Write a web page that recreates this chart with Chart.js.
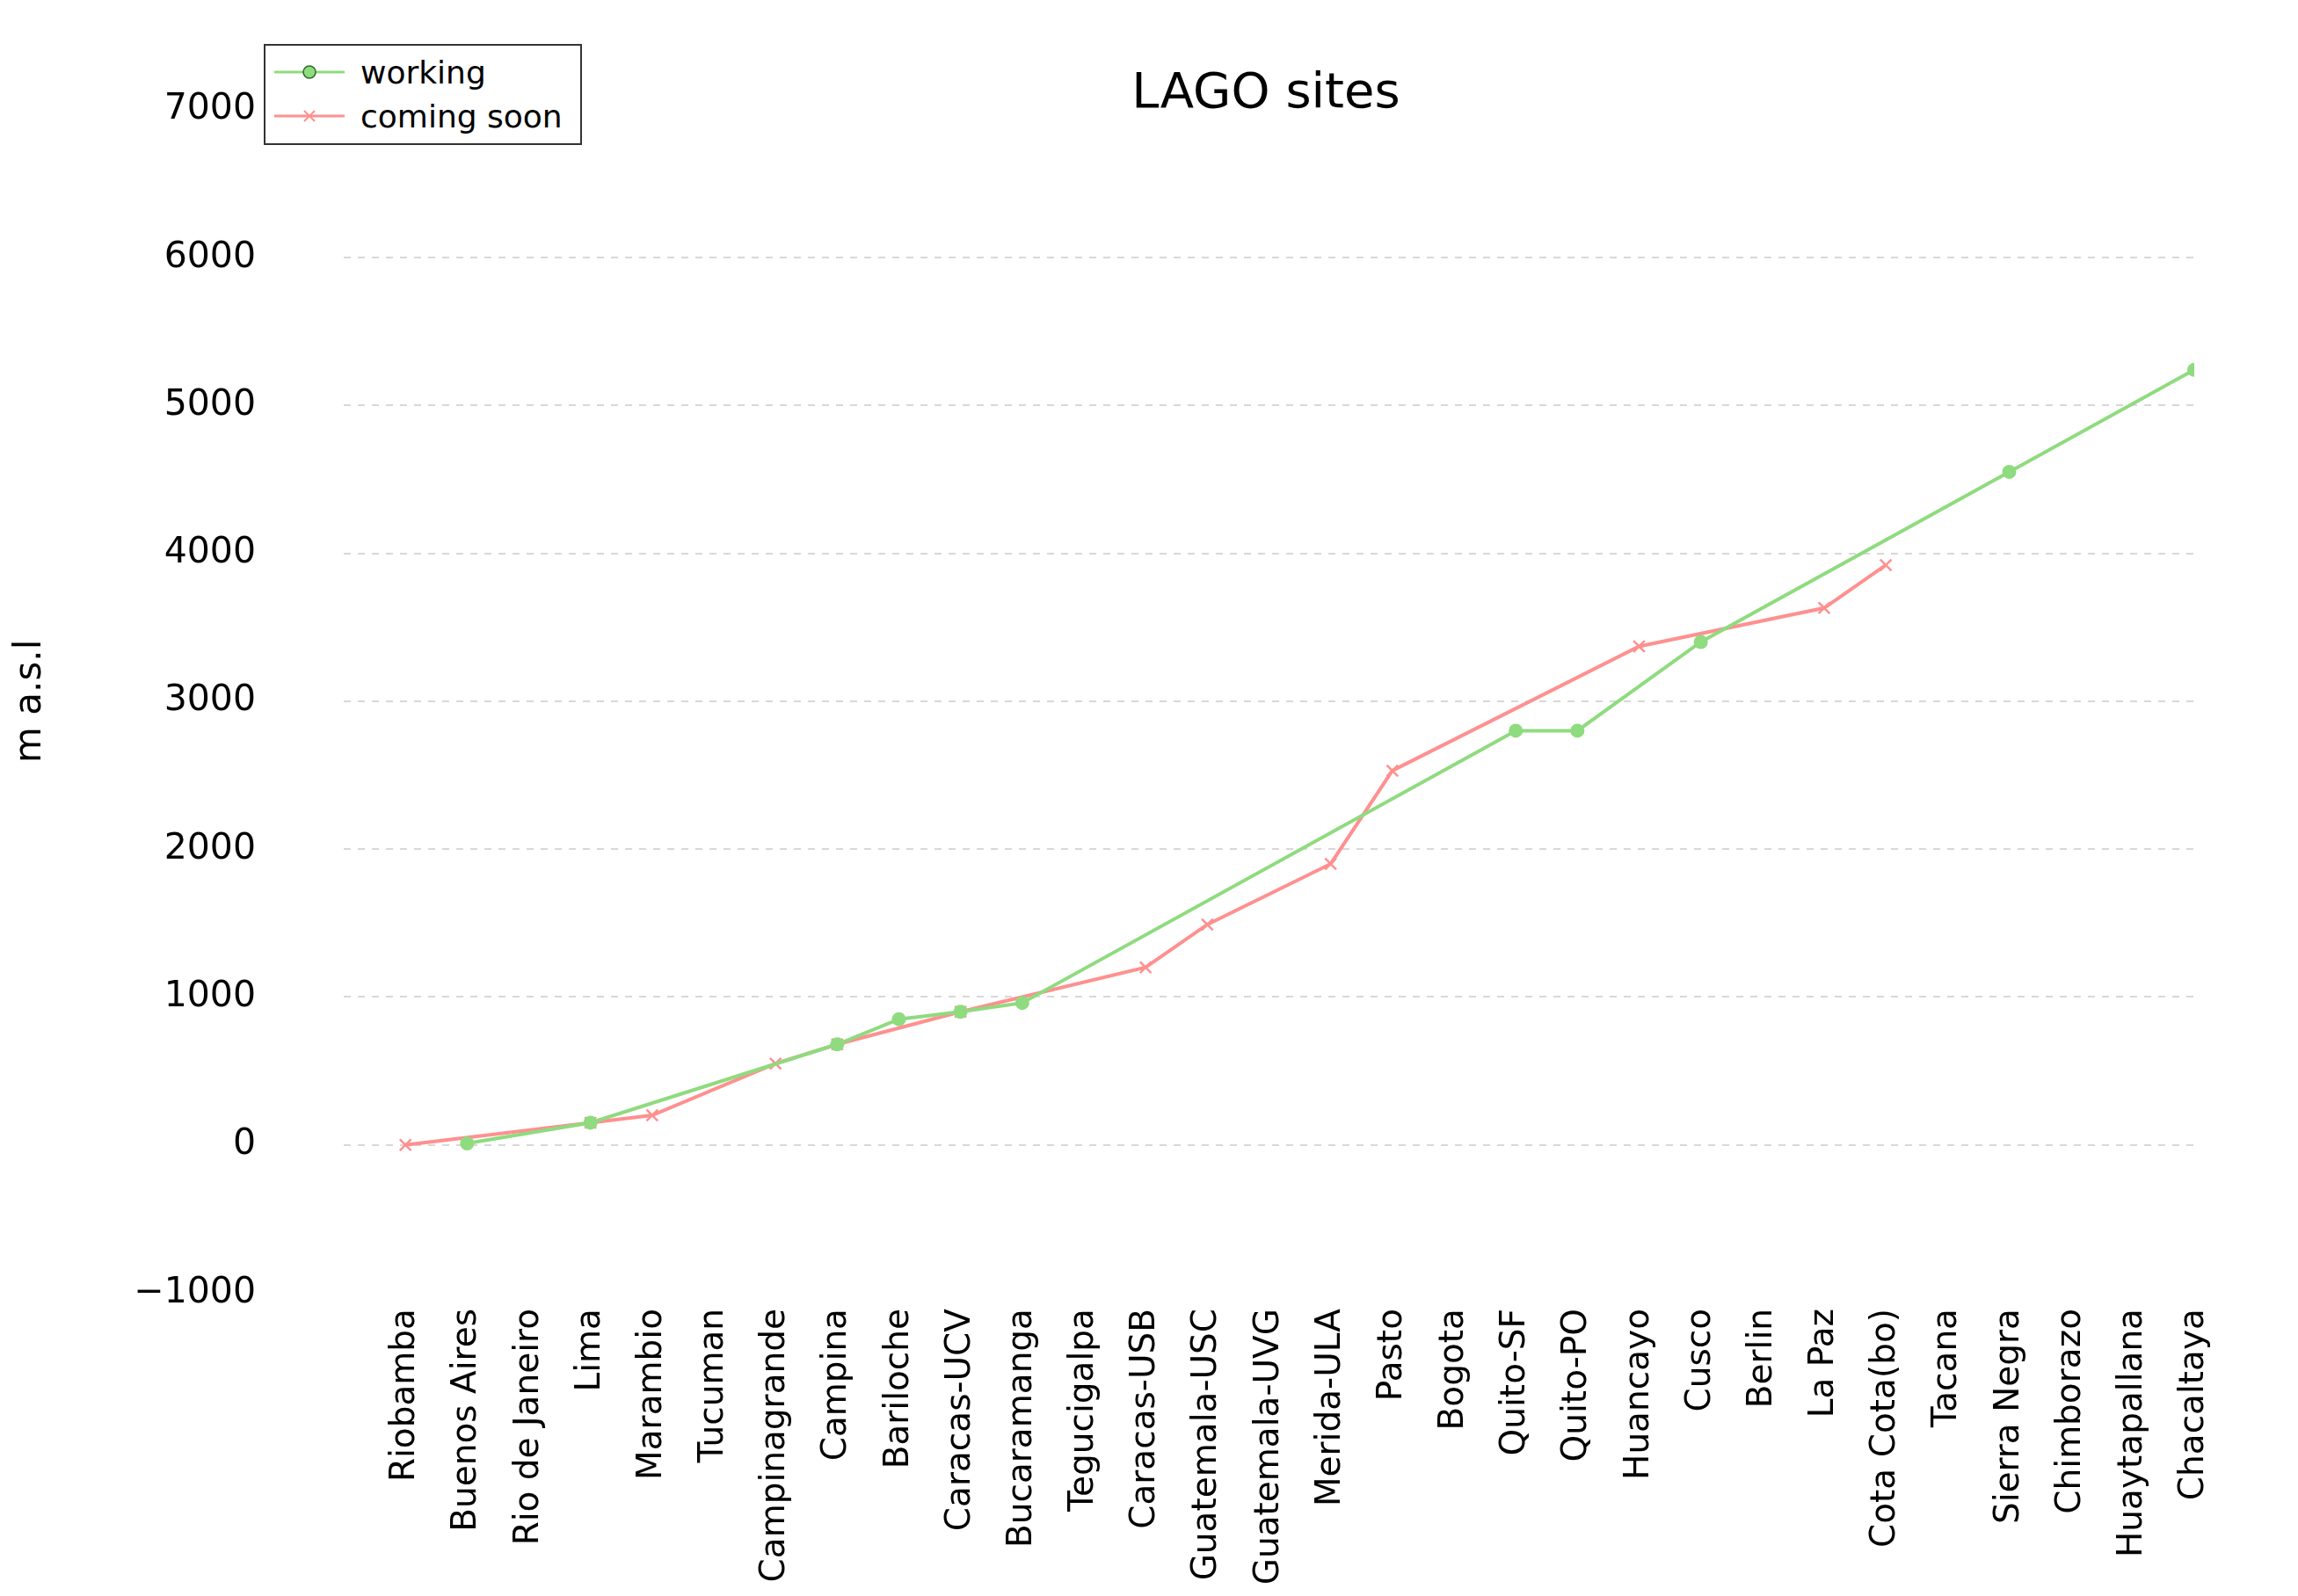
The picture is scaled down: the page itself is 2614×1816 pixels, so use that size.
<!DOCTYPE html>
<html><head><meta charset="utf-8">
<script src="https://cdn.jsdelivr.net/npm/chart.js"></script>
<style>
body{margin:0;background:#fff;font-family:"DejaVu Sans",sans-serif}
#wrap{position:relative;width:2614px;height:1816px}
#title{position:absolute;left:0;width:2880px;top:70px;text-align:center;font-size:56px;color:#000}
#legend{position:absolute;left:300px;top:50px;width:362px;height:115px;border:2px solid #333;background:#fff;font-size:36px;box-sizing:border-box}
.row{position:absolute;left:0;height:40px;display:flex;align-items:center}
.row svg{margin-left:10px;margin-right:18px}
</style></head>
<body><div id="wrap">
<canvas id="Grafica" width="2614" height="1816"></canvas>
<div id="title">LAGO sites</div>
<div id="legend">
 <div class="row" style="top:10px"><svg width="80" height="20"><line x1="0" y1="10" x2="80" y2="10" stroke="#8fdb7f" stroke-width="3"/><circle cx="40" cy="10" r="7" fill="#8fdb7f" stroke="#2a6a2a" stroke-width="1.5"/></svg>working</div>
 <div class="row" style="top:60px"><svg width="80" height="20"><line x1="0" y1="10" x2="80" y2="10" stroke="#ff9090" stroke-width="3"/><path d="M34 4 L46 16 M46 4 L34 16" stroke="#ff9090" stroke-width="2"/></svg>coming soon</div>
</div>
</div>
<script>
const sitios = ["Riobamba","Buenos Aires","Rio de Janeiro","Lima","Marambio","Tucuman","Campinagrande","Campina","Bariloche","Caracas-UCV","Bucaramanga","Tegucigalpa","Caracas-USB","Guatemala-USC","Guatemala-UVG","Merida-ULA","Pasto","Bogota","Quito-SF","Quito-PO","Huancayo","Cusco","Berlin","La Paz","Cota Cota(bo)","Tacana","Sierra Negra","Chimborazo","Huaytapallana","Chacaltaya"];
const funcionando = [null,10,null,150,null,null,null,680,850,900,960,null,null,null,null,null,null,null,2800,2800,null,3400,null,null,null,null,4550,null,null,5240];
const proximamente = [0,null,null,150,200,null,550,680,null,900,null,null,1200,1490,null,1900,2530,null,null,null,3370,null,null,3630,3920,null,null,null,null,null];
const aPuntos = arr => arr.map((v,i) => v === null ? null : {x:i, y:v}).filter(p => p);

new Chart(document.getElementById("Grafica"), {
  type: "line",
  data: {
    datasets: [
      {label:"working", data:aPuntos(funcionando), borderColor:"#8fdb7f", backgroundColor:"#8fdb7f",
       pointStyle:"circle", pointRadius:8, borderWidth:4, pointBorderWidth:0},
      {label:"coming soon", data:aPuntos(proximamente), borderColor:"#ff9090", backgroundColor:"#ff9090",
       pointStyle:"crossRot", pointRadius:9, borderWidth:4, pointBorderWidth:2.5}
    ]
  },
  options: {
    responsive:false, animation:false,
    layout:{padding:{top:-58,left:10,right:118,bottom:0}},
    plugins:{legend:{display:false}, tooltip:{enabled:false}},
    scales:{
      x:{type:"linear", min:-1, max:29, border:{display:false},
         grid:{display:false},
         afterFit: s => { s.height = 345; },
         afterBuildTicks: s => { s.ticks = sitios.map((_,i)=>({value:i})); },
         ticks:{autoSkip:false, minRotation:90, maxRotation:90, color:"#000",
                font:{family:"DejaVu Sans", size:39}, padding:10,
                callback: v => sitios[v] ?? ""}},
      y:{min:-1000, max:7000,
         afterFit: s => { s.width = 381; },
         grid:{color: c => (c.tick.value > -1000 && c.tick.value < 7000) ? "#d8d8d8" : "rgba(0,0,0,0)",
               lineWidth:2, tickLength:0, drawTicks:false},
         border:{display:false, dash:[8,8]},
         ticks:{stepSize:1000, color:"#000", font:{family:"DejaVu Sans", size:41}, padding:100,
                callback: v => v < 0 ? "\u2212" + Math.abs(v) : v},
         title:{display:true, text:"m a.s.l", color:"#000", font:{family:"DejaVu Sans", size:42}, padding:0}}
    }
  }
});
</script>
</body></html>
